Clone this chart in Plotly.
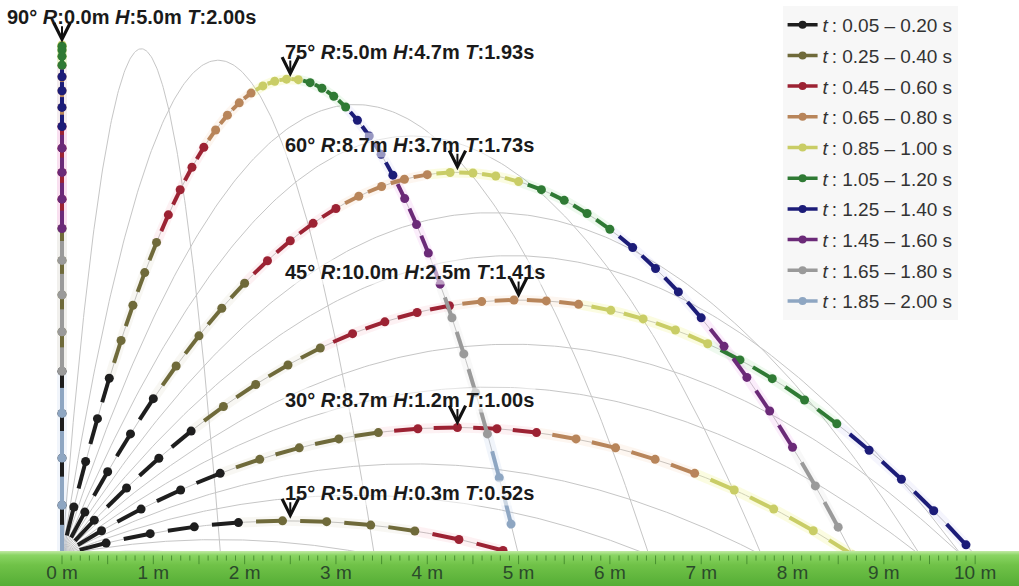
import numpy as np
import plotly.graph_objects as go

# ---------------- data ----------------
ANGLES = [15, 30, 45, 60, 75, 90]                     # launch angles (deg)
RANGE_TXT = ["5.0", "8.7", "10.0", "8.7", "5.0", "0.0"]
HEIGHT_TXT = ["0.3", "1.2", "2.5", "3.7", "4.7", "5.0"]
TIME_TXT = ["0.52", "1.00", "1.41", "1.73", "1.93", "2.00"]
LABEL_X = [2.42, 2.42, 2.42, 2.42, 2.42, -0.62]       # left edge of each label (m)
GRAY_ANGLES = [5, 10, 15, 20, 25, 30, 35, 40, 45, 50, 55, 60, 65, 70, 75, 80, 85]
V0 = 10.0        # m/s  (90° label: H = 5.0 m, T = 2.00 s)
G = 10.0         # m/s^2
DT = 0.05        # s between dots
GROUP_LABELS = ["0.05 – 0.20", "0.25 – 0.40", "0.45 – 0.60", "0.65 – 0.80", "0.85 – 1.00",
                "1.05 – 1.20", "1.25 – 1.40", "1.45 – 1.60", "1.65 – 1.80", "1.85 – 2.00"]
GROUP_COLORS = ["#1e1e1e", "#6f6a3a", "#9c2233", "#b8855a", "#c9cd66",
                "#2f7a34", "#1c1c78", "#6b2a78", "#9a9a9a", "#8ea6c2"]
GLOW_COLORS = ["rgba(60,60,60,0.0)", "rgba(150,145,80,0.07)", "rgba(230,80,100,0.08)",
               "rgba(240,170,110,0.10)", "rgba(235,240,120,0.22)", "rgba(90,200,90,0.10)",
               "rgba(90,90,220,0.06)", "rgba(220,110,220,0.12)", "rgba(170,170,170,0.08)",
               "rgba(140,170,220,0.12)"]
TICK_M = [0, 1, 2, 3, 4, 5, 6, 7, 8, 9, 10]
TICK_LABELS = ["0 m", "1 m", "2 m", "3 m", "4 m", "5 m", "6 m", "7 m", "8 m", "9 m", "10 m"]

X_RANGE = [-0.679, 10.48]
Y_RANGE = [-0.304, 5.44]
GAP = 0.4   # fraction of each step left blank before the line starts


def pos(theta_deg, t):
    th = np.radians(theta_deg)
    return V0 * np.cos(th) * t, V0 * np.sin(th) * t - 0.5 * G * t * t


fig = go.Figure()

# ---- thin gray trajectories ----
for a in GRAY_ANGLES:
    T = 2 * V0 * np.sin(np.radians(a)) / G
    ts = np.linspace(0, T, 200)
    x, y = pos(a, ts)
    fig.add_trace(go.Scatter(x=x, y=y, mode="lines", line=dict(color="#c6c6c6", width=1),
                             hoverinfo="skip", showlegend=False))

# ---- build segments per colour group ----
glow = {g: ([], []) for g in range(10)}
segs = {g: ([], []) for g in range(10)}
dots = {g: ([], []) for g in range(10)}
for a in ANGLES:
    T = 2 * V0 * np.sin(np.radians(a)) / G
    k = 1
    while k * DT <= T + 1e-9:
        g = min((k - 1) // 4, 9)
        t0, t1 = (k - 1) * DT, k * DT
        xa, ya = pos(a, t0)
        xs, ys = pos(a, t0 + GAP * DT)
        xb, yb = pos(a, t1)
        glow[g][0].extend([xa, xb, None]); glow[g][1].extend([ya, yb, None])
        segs[g][0].extend([xs, xb, None]); segs[g][1].extend([ys, yb, None])
        dots[g][0].append(xb); dots[g][1].append(yb)
        k += 1

for g in range(10):
    fig.add_trace(go.Scatter(x=glow[g][0], y=glow[g][1], mode="lines",
                             line=dict(color=GLOW_COLORS[g], width=10),
                             hoverinfo="skip", showlegend=False))
for g in range(10):
    fig.add_trace(go.Scatter(x=segs[g][0], y=segs[g][1], mode="lines",
                             line=dict(color=GROUP_COLORS[g], width=4),
                             hoverinfo="skip", showlegend=False))
    fig.add_trace(go.Scatter(x=dots[g][0], y=dots[g][1], mode="markers",
                             marker=dict(color=GROUP_COLORS[g], size=9),
                             hoverinfo="skip", showlegend=False))

# ---- legend entries ----
for g in range(10):
    fig.add_trace(go.Scatter(x=[None], y=[None], mode="lines+markers",
                             line=dict(color=GROUP_COLORS[g], width=3.5),
                             marker=dict(color=GROUP_COLORS[g], size=8),
                             name=f"<i>t</i>\u2009: {GROUP_LABELS[g]} s",
                             legendgroup=f"g{g}"))

# ---- ground ----
gx = [X_RANGE[0], X_RANGE[1], X_RANGE[1], X_RANGE[0], X_RANGE[0]]
gy = [0.04, 0.04, Y_RANGE[0], Y_RANGE[0], 0.04]
fig.add_trace(go.Scatter(x=gx, y=gy, mode="lines", fill="toself",
                         line=dict(width=0, color="rgba(0,0,0,0)"),
                         fillgradient=dict(type="vertical",
                                           colorscale=[[0, "#55ad35"], [0.6, "#70c248"],
                                                       [0.88, "#8ad563"], [1, "#c4eaa8"]]),
                         hoverinfo="skip", showlegend=False))
tx, ty = [], []
for i in range(0, 101):
    xv = i / 10
    depth = 0.085 if i % 5 == 0 else 0.05
    tx.extend([xv, xv, None]); ty.extend([-0.005, -0.005 - depth, None])
fig.add_trace(go.Scatter(x=tx, y=ty, mode="lines", line=dict(color="rgba(60,130,40,0.8)", width=1),
                         hoverinfo="skip", showlegend=False))
fig.add_trace(go.Scatter(x=TICK_M, y=[-0.19] * len(TICK_M), mode="text", text=TICK_LABELS,
                         cliponaxis=False,
                         textfont=dict(family="Arial, Liberation Sans, sans-serif", size=19,
                                       color="#2b4a2b"),
                         hoverinfo="skip", showlegend=False))

# ---- labels with arrows ----
for a, r, h, tt, lx in zip(ANGLES, RANGE_TXT, HEIGHT_TXT, TIME_TXT, LABEL_X):
    th = np.radians(a)
    ax_ = V0 ** 2 * np.sin(2 * th) / (2 * G)
    H = (V0 * np.sin(th)) ** 2 / (2 * G)
    fig.add_annotation(x=lx, y=H + 0.27, xref="x", yref="y", xanchor="left", yanchor="middle",
                       text=f"<b>{a}° <i>R</i>:{r}m <i>H</i>:{h}m <i>T</i>:{tt}s</b>",
                       showarrow=False, bgcolor="rgba(255,255,255,0.55)",
                       font=dict(family="Arial, Liberation Sans, sans-serif", size=20, color="#1a1a1a"))
    fig.add_annotation(x=ax_, y=H + 0.02, xref="x", yref="y", text="", showarrow=True,
                       ax=0, ay=-18, arrowhead=5, arrowsize=1.6, arrowwidth=2, arrowcolor="#111")

fig.update_layout(
    width=1019, height=586, margin=dict(l=0, r=0, t=0, b=0),
    plot_bgcolor="white", paper_bgcolor="white",
    xaxis=dict(range=X_RANGE, visible=False, fixedrange=True),
    yaxis=dict(range=Y_RANGE, visible=False, fixedrange=True),
    legend=dict(x=0.768, y=0.99, xanchor="left", yanchor="top", bgcolor="#f7f7f7",
                font=dict(family="Arial, Liberation Sans, sans-serif", size=19, color="#333333"),
                tracegroupgap=3, itemwidth=30),
    showlegend=True,
)

fig.write_html("out.html", config={"displayModeBar": False},
               post_script="document.body.style.margin='0';document.body.style.overflow='hidden';")
